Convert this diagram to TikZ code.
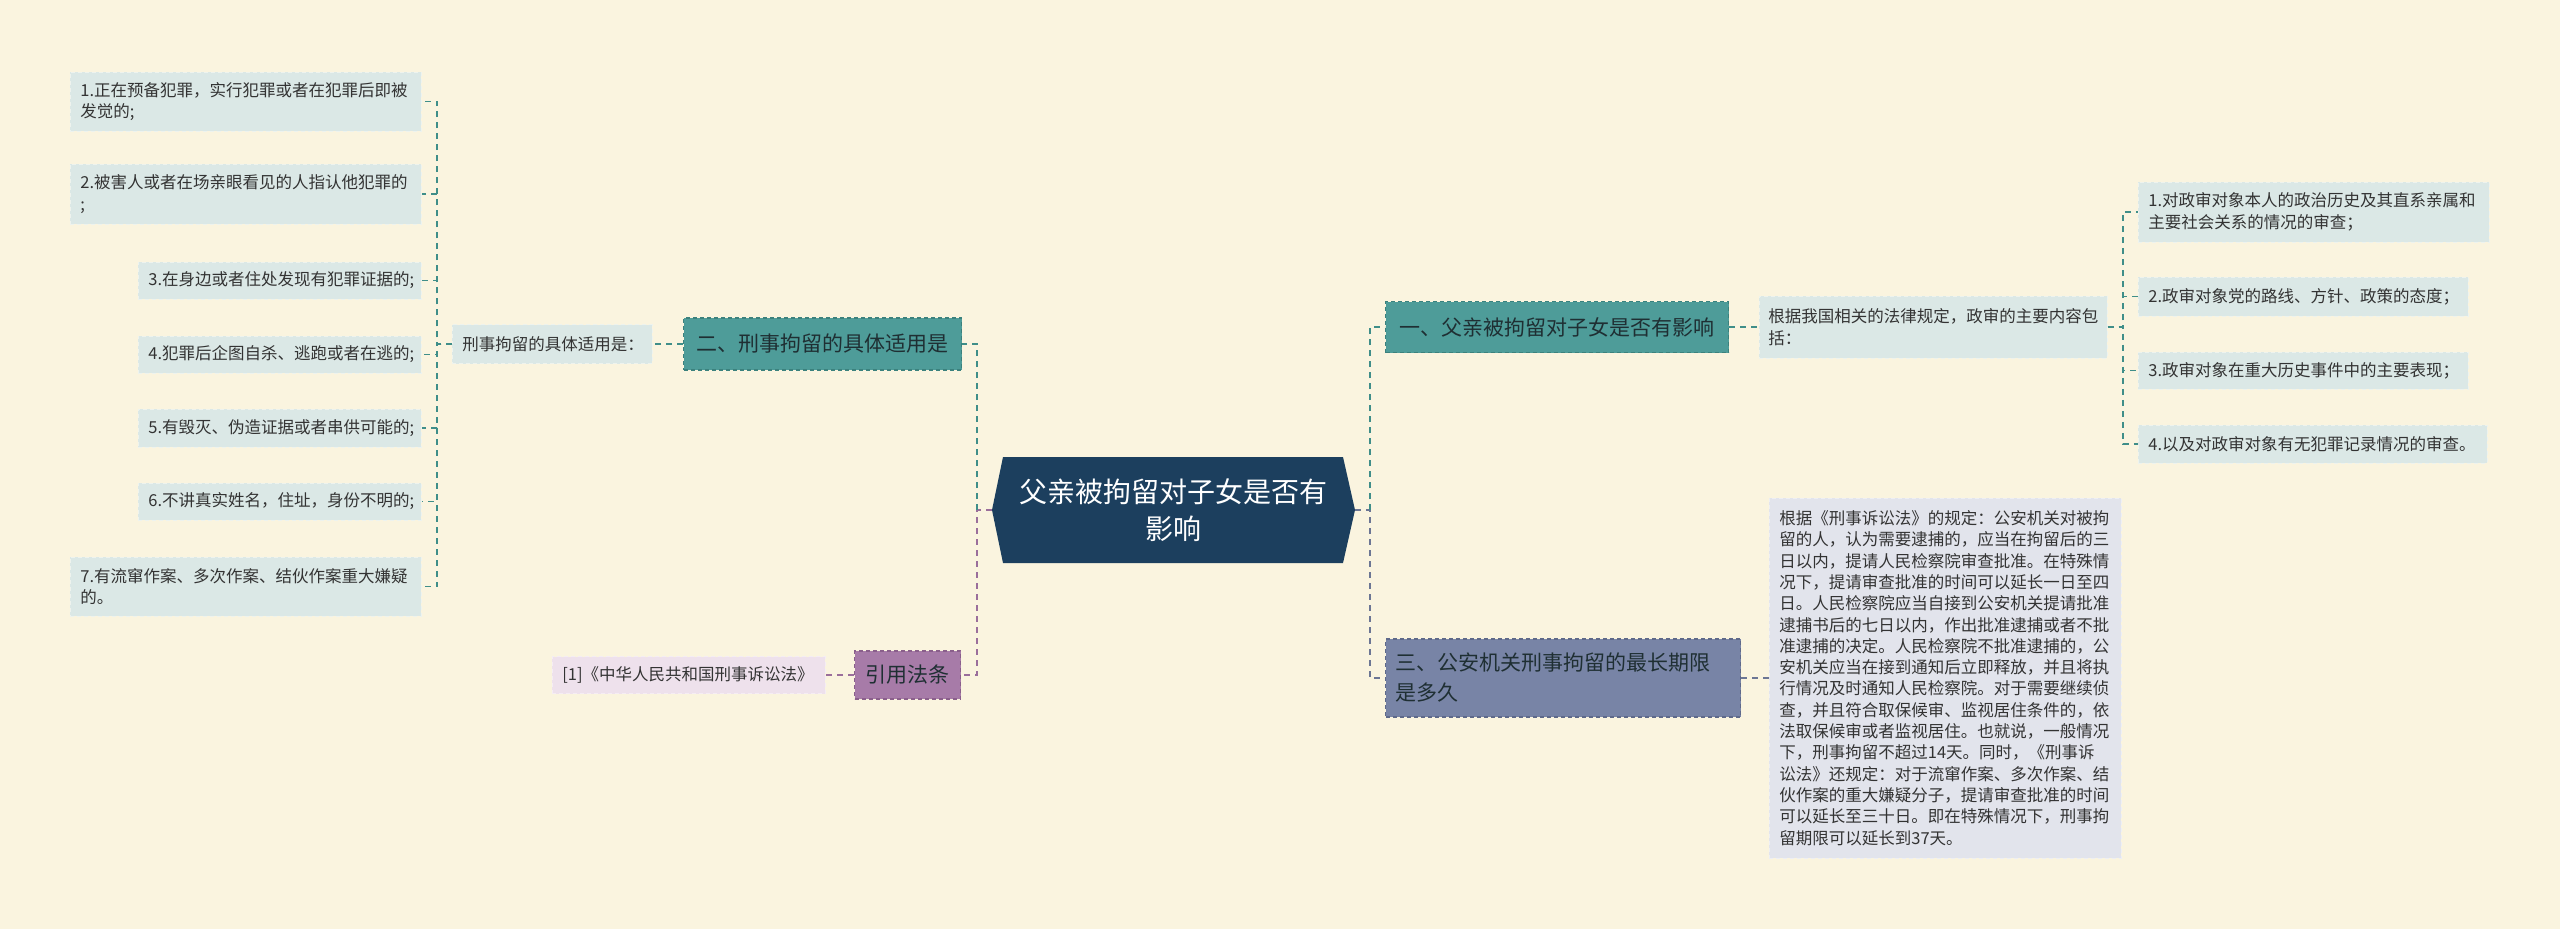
\documentclass[tikz,border=0pt]{standalone}
\usepackage{fontspec}
\newfontfamily\cjk{Noto Sans CJK SC}
\definecolor{bg}{HTML}{FAF4DF}
\definecolor{leaffill}{HTML}{DBE8E6}
\definecolor{leafline}{HTML}{EEF3EE}
\definecolor{txt}{HTML}{333333}
\definecolor{maintxt}{HTML}{1F2F33}
\definecolor{tealfill}{HTML}{4E9C99}
\definecolor{tealline}{HTML}{3B817D}
\definecolor{tealconn}{HTML}{3F8E89}
\definecolor{purpfill}{HTML}{A77BA8}
\definecolor{purpline}{HTML}{8A5F8B}
\definecolor{purpconn}{HTML}{9A6E9B}
\definecolor{lavfill}{HTML}{EEE1EC}
\definecolor{slatefill}{HTML}{7884A6}
\definecolor{slateline}{HTML}{5E698A}
\definecolor{slateconn}{HTML}{6C7694}
\definecolor{greyfill}{HTML}{E2E4EC}
\definecolor{navy}{HTML}{1C3F5E}
\tikzset{
  leafbox/.style={font=\cjk\fontsize{16.5}{21.5}\selectfont, text=txt, fill=leaffill,
    draw=leafline, dash pattern=on 4pt off 3pt, line width=0.8pt, inner xsep=10pt, inner ysep=0pt,
    anchor=west, align=left},
  mainbox/.style={font=\cjk\fontsize{21}{30}\selectfont, text=maintxt, dash pattern=on 4pt off 3pt,
    line width=1.3pt, inner ysep=0pt, anchor=west, align=left},
  tealbox/.style={mainbox, fill=tealfill, draw=tealline},
  purpbox/.style={mainbox, fill=purpfill, draw=purpline},
  slatebox/.style={mainbox, fill=slatefill, draw=slateline},
  conn/.style={line width=1.8pt, dash pattern=on 6pt off 5pt},
  tconn/.style={conn, draw=tealconn},
  pconn/.style={conn, draw=purpconn},
  sconn/.style={conn, draw=slateconn},
}
\begin{document}
\begin{tikzpicture}[x=1pt,y=-1pt]
\useasboundingbox[fill=bg] (0,0) rectangle (2560,929);

% central node
\fill[navy] (992,510) -- (1003,457) -- (1343,457) -- (1355,510) -- (1343,563) -- (1003,563) -- cycle;
\node[font=\cjk\fontsize{28}{37}\selectfont, text=white, align=center,
  minimum width=363pt, minimum height=106pt, inner sep=0pt] (root) at (1173.5,510)
  {父亲被拘留对子女是否有\\影响};

% left branch: 二
\node[tealbox, inner xsep=13pt, text width=252pt, minimum height=52pt] (n2) at (683,344) {二、刑事拘留的具体适用是};
\node[leafbox, text width=180pt, minimum height=39pt] (n2a) at (452,344) {刑事拘留的具体适用是：};
\node[leafbox, text width=331pt, minimum height=59pt] (l1) at (70,101.5) {1.正在预备犯罪，实行犯罪或者在犯罪后即被\\发觉的;};
\node[leafbox, text width=331pt, minimum height=60pt] (l2) at (70,194) {2.被害人或者在场亲眼看见的人指认他犯罪的\\;};
\node[leafbox, text width=263pt, minimum height=37pt] (l3) at (138,280.5) {3.在身边或者住处发现有犯罪证据的;};
\node[leafbox, text width=263pt, minimum height=37pt] (l4) at (138,354.5) {4.犯罪后企图自杀、逃跑或者在逃的;};
\node[leafbox, text width=263pt, minimum height=38pt] (l5) at (138,428) {5.有毁灭、伪造证据或者串供可能的;};
\node[leafbox, text width=263pt, minimum height=37pt] (l6) at (138,501.5) {6.不讲真实姓名，住址，身份不明的;};
\node[leafbox, text width=331pt, minimum height=59pt] (l7) at (70,586.5) {7.有流窜作案、多次作案、结伙作案重大嫌疑\\的。};

% left branch: 引用法条
\node[purpbox, inner xsep=11pt, minimum height=48pt] (q) at (854,675) {引用法条};
\node[leafbox, fill=lavfill, draw=lavfill!60!white, text width=253pt, minimum height=37pt] (ref) at (552,675) {[1]《中华人民共和国刑事诉讼法》};

% right branch: 一
\node[tealbox, inner xsep=14pt, text width=315pt, minimum height=51pt] (n1) at (1385,327) {一、父亲被拘留对子女是否有影响};
\node[leafbox, inner xsep=9pt, text width=330pt, minimum height=62pt] (n1a) at (1759,327) {根据我国相关的法律规定，政审的主要内容包\\括：};
\node[leafbox, text width=331pt, minimum height=60pt] (r1) at (2138,212) {1.对政审对象本人的政治历史及其直系亲属和\\主要社会关系的情况的审查；};
\node[leafbox, text width=310pt, minimum height=39pt] (r2) at (2138,296.5) {2.政审对象党的路线、方针、政策的态度；};
\node[leafbox, text width=310pt, minimum height=37pt] (r3) at (2138,370.5) {3.政审对象在重大历史事件中的主要表现；};
\node[leafbox, text width=329pt, minimum height=38pt] (r4) at (2138,444) {4.以及对政审对象有无犯罪记录情况的审查。};

% right branch: 三
\node[slatebox, inner xsep=10pt, text width=335pt, minimum height=78pt] (n3) at (1385,678) {三、公安机关刑事拘留的最长期限\\是多久};
\node[leafbox, fill=greyfill, draw=greyfill!60!white, text width=332pt, minimum height=360pt,
  font=\cjk\fontsize{16.5}{21.3}\selectfont] (n3a) at (1769,678)
{根据《刑事诉讼法》的规定：公安机关对被拘\\
留的人，认为需要逮捕的，应当在拘留后的三\\
日以内，提请人民检察院审查批准。在特殊情\\
况下，提请审查批准的时间可以延长一日至四\\
日。人民检察院应当自接到公安机关提请批准\\
逮捕书后的七日以内，作出批准逮捕或者不批\\
准逮捕的决定。人民检察院不批准逮捕的，公\\
安机关应当在接到通知后立即释放，并且将执\\
行情况及时通知人民检察院。对于需要继续侦\\
查，并且符合取保候审、监视居住条件的，依\\
法取保候审或者监视居住。也就说，一般情况\\
下，刑事拘留不超过14天。同时，《刑事诉\\
讼法》还规定：对于流窜作案、多次作案、结\\
伙作案的重大嫌疑分子，提请审查批准的时间\\
可以延长至三十日。即在特殊情况下，刑事拘\\
留期限可以延长到37天。};

% junctions
\coordinate (jc) at (977,510);
\coordinate (jr) at (1370,510);
\coordinate (jl) at (437,344);
\coordinate (jr2) at (2123,327);

% connectors
\draw[pconn] (root.west) -- (jc) |- (q.east);
\draw[tconn] (jc) |- (n2.east);
\draw[tconn] (n2.west) -- (n2a.east);
\foreach \n in {l1,l2,l3,l4,l5,l6,l7} \draw[tconn] (n2a.west) -- (jl) |- (\n.east);
\draw[pconn] (q.west) -- (ref.east);

\draw[sconn] (root.east) -- (jr) |- (n3.west);
\draw[tconn] (jr) |- (n1.west);
\draw[tconn] (n1.east) -- (n1a.west);
\foreach \n in {r1,r2,r3,r4} \draw[tconn] (n1a.east) -- (jr2) |- (\n.west);
\draw[sconn] (n3.east) -- (n3a.west);
\end{tikzpicture}
\end{document}
